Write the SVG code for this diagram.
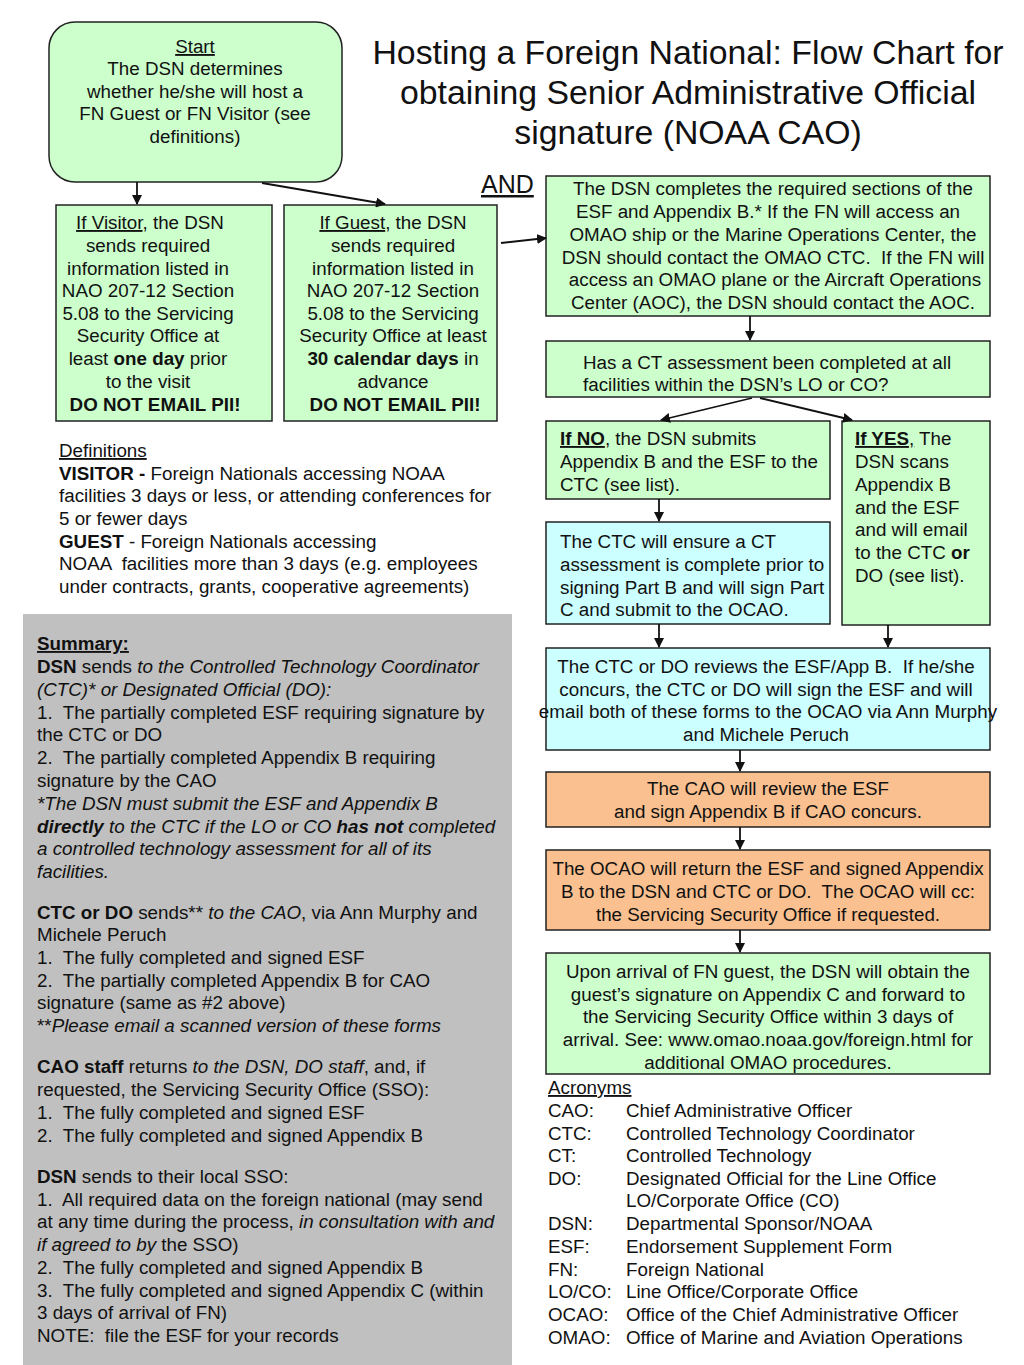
<svg xmlns="http://www.w3.org/2000/svg" width="1024" height="1365" viewBox="0 0 1024 1365" xml:space="preserve">
<style>
text{font-family:"Liberation Sans",Arial,sans-serif;font-size:18.8px;fill:#111;white-space:pre}
.c{text-anchor:middle}
.t{font-size:33.8px}
.b{font-weight:bold}
.i{font-style:italic}
.u{text-decoration:underline}
.box{stroke:#222;stroke-width:1.5}
.g{fill:#ccffcc}
.cy{fill:#ccffff}
.o{fill:#fac08f}
.conn line{stroke:#111;stroke-width:1.8}
</style>
<defs>
<marker id="ah" markerWidth="10" markerHeight="10" refX="9" refY="5" orient="auto" markerUnits="userSpaceOnUse">
<path d="M0,0 L10,5 L0,10 z" fill="#111"/>
</marker>
</defs>
<rect width="1024" height="1365" fill="#fff"/>

<g id="title">
<text class="c t" x="688" y="64">Hosting a Foreign National: Flow Chart for</text>
<text class="c t" x="688" y="104">obtaining Senior Administrative Official</text>
<text class="c t" x="688" y="144">signature (NOAA CAO)</text>
</g>

<g id="start">
<rect class="box g" x="49" y="22" width="293" height="160" rx="26"/>
<text class="c" x="195" y="53"><tspan class="u">Start</tspan></text>
<text class="c" x="195" y="75">The DSN determines</text>
<text class="c" x="195" y="98">whether he/she will host a</text>
<text class="c" x="195" y="120">FN Guest or FN Visitor (see</text>
<text class="c" x="195" y="143">definitions)</text>
</g>

<g id="visitor">
<rect class="box g" x="56" y="205" width="216" height="216"/>
<text class="c" x="150" y="229"><tspan class="u">If Visitor</tspan>, the DSN</text>
<text class="c" x="148" y="252">sends required</text>
<text class="c" x="148" y="275">information listed in</text>
<text class="c" x="148" y="297">NAO 207-12 Section</text>
<text class="c" x="148" y="320">5.08 to the Servicing</text>
<text class="c" x="148" y="342">Security Office at</text>
<text class="c" x="148" y="365">least <tspan class="b">one day</tspan> prior</text>
<text class="c" x="148" y="388">to the visit</text>
<text class="c b" x="155" y="411">DO NOT EMAIL PII!</text>
</g>

<g id="guest">
<rect class="box g" x="284" y="205" width="213" height="216"/>
<text class="c" x="393" y="229"><tspan class="u">If Guest</tspan>, the DSN</text>
<text class="c" x="393" y="252">sends required</text>
<text class="c" x="393" y="275">information listed in</text>
<text class="c" x="393" y="297">NAO 207-12 Section</text>
<text class="c" x="393" y="320">5.08 to the Servicing</text>
<text class="c" x="393" y="342">Security Office at least</text>
<text class="c" x="393" y="365"><tspan class="b">30 calendar days</tspan> in</text>
<text class="c" x="393" y="388">advance</text>
<text class="c b" x="395" y="411">DO NOT EMAIL PII!</text>
</g>

<g id="and-label">
<text x="481" y="193" style="font-size:25px" class="u">AND</text>
</g>

<g id="dsn-completes">
<rect class="box g" x="546" y="176" width="444" height="140"/>
<text class="c" x="773" y="195">The DSN completes the required sections of the</text>
<text class="c" x="768" y="218">ESF and Appendix B.* If the FN will access an</text>
<text class="c" x="773" y="241">OMAO ship or the Marine Operations Center, the</text>
<text class="c" x="773" y="264">DSN should contact the OMAO CTC.  If the FN will</text>
<text class="c" x="775" y="286">access an OMAO plane or the Aircraft Operations</text>
<text class="c" x="773" y="309">Center (AOC), the DSN should contact the AOC.</text>
</g>

<g id="ct-question">
<rect class="box g" x="546" y="341" width="444" height="56"/>
<text x="583" y="369">Has a CT assessment been completed at all</text>
<text x="583" y="391">facilities within the DSN’s LO or CO?</text>
</g>

<g id="if-no">
<rect class="box g" x="546" y="421" width="284" height="78"/>
<text x="560" y="445"><tspan class="b u">If NO</tspan>, the DSN submits</text>
<text x="560" y="468">Appendix B and the ESF to the</text>
<text x="560" y="491">CTC (see list).</text>
</g>

<g id="if-yes">
<rect class="box g" x="842" y="421" width="148" height="204"/>
<text x="855" y="445"><tspan class="b u">If YES</tspan><tspan class="u">,</tspan> The</text>
<text x="855" y="468">DSN scans</text>
<text x="855" y="491">Appendix B</text>
<text x="855" y="514">and the ESF</text>
<text x="855" y="536">and will email</text>
<text x="855" y="559">to the CTC <tspan class="b">or</tspan></text>
<text x="855" y="582">DO (see list).</text>
</g>

<g id="ctc-ensure">
<rect class="box cy" x="546" y="522" width="284" height="102"/>
<text x="560" y="548">The CTC will ensure a CT</text>
<text x="560" y="571">assessment is complete prior to</text>
<text x="560" y="594">signing Part B and will sign Part</text>
<text x="560" y="616">C and submit to the OCAO.</text>
</g>

<g id="ctc-reviews">
<rect class="box cy" x="546" y="648" width="444" height="102"/>
<text class="c" x="766" y="673">The CTC or DO reviews the ESF/App B.  If he/she</text>
<text class="c" x="766" y="696">concurs, the CTC or DO will sign the ESF and will</text>
<text class="c" x="768" y="718">email both of these forms to the OCAO via Ann Murphy</text>
<text class="c" x="766" y="741">and Michele Peruch</text>
</g>

<g id="cao-review">
<rect class="box o" x="546" y="772" width="444" height="55"/>
<text class="c" x="768" y="795">The CAO will review the ESF</text>
<text class="c" x="768" y="818">and sign Appendix B if CAO concurs.</text>
</g>

<g id="ocao-return">
<rect class="box o" x="546" y="850" width="444" height="80"/>
<text class="c" x="768" y="875">The OCAO will return the ESF and signed Appendix</text>
<text class="c" x="768" y="898">B to the DSN and CTC or DO.  The OCAO will cc:</text>
<text class="c" x="768" y="921">the Servicing Security Office if requested.</text>
</g>

<g id="arrival">
<rect class="box g" x="546" y="953" width="444" height="121"/>
<text class="c" x="768" y="978">Upon arrival of FN guest, the DSN will obtain the</text>
<text class="c" x="768" y="1001">guest’s signature on Appendix C and forward to</text>
<text class="c" x="768" y="1023">the Servicing Security Office within 3 days of</text>
<text class="c" x="768" y="1046">arrival. See: www.omao.noaa.gov/foreign.html for</text>
<text class="c" x="768" y="1069">additional OMAO procedures.</text>
</g>

<g id="definitions">
<text x="59" y="457"><tspan class="u">Definitions</tspan></text>
<text x="59" y="480"><tspan class="b">VISITOR - </tspan>Foreign Nationals accessing NOAA</text>
<text x="59" y="502">facilities 3 days or less, or attending conferences for</text>
<text x="59" y="525">5 or fewer days</text>
<text x="59" y="548"><tspan class="b">GUEST</tspan> - Foreign Nationals accessing</text>
<text x="59" y="570">NOAA  facilities more than 3 days (e.g. employees</text>
<text x="59" y="593">under contracts, grants, cooperative agreements)</text>
</g>

<g id="summary">
<rect x="23" y="614" width="489" height="751" fill="#c0c0c0"/>
<text x="37" y="650" class="b u">Summary:</text>
<text x="37" y="673"><tspan class="b">DSN</tspan> sends <tspan class="i">to the Controlled Technology Coordinator</tspan></text>
<text x="37" y="696" class="i">(CTC)* or Designated Official (DO):</text>
<text x="37" y="719">1.  The partially completed ESF requiring signature by</text>
<text x="37" y="741">the CTC or DO</text>
<text x="37" y="764">2.  The partially completed Appendix B requiring</text>
<text x="37" y="787">signature by the CAO</text>
<text x="37" y="810" class="i">*The DSN must submit the ESF and Appendix B</text>
<text x="37" y="833" class="i"><tspan class="b">directly</tspan> to the CTC if the LO or CO <tspan class="b">has not</tspan> completed</text>
<text x="37" y="855" class="i">a controlled technology assessment for all of its</text>
<text x="37" y="878" class="i">facilities.</text>
<text x="37" y="919"><tspan class="b">CTC or DO</tspan> sends** <tspan class="i">to the CAO</tspan>, via Ann Murphy and</text>
<text x="37" y="941">Michele Peruch</text>
<text x="37" y="964">1.  The fully completed and signed ESF</text>
<text x="37" y="987">2.  The partially completed Appendix B for CAO</text>
<text x="37" y="1009">signature (same as #2 above)</text>
<text x="37" y="1032">**<tspan class="i">Please email a scanned version of these forms</tspan></text>
<text x="37" y="1073"><tspan class="b">CAO staff</tspan> returns <tspan class="i">to the DSN, DO staff</tspan>, and, if</text>
<text x="37" y="1096">requested, the Servicing Security Office (SSO):</text>
<text x="37" y="1119">1.  The fully completed and signed ESF</text>
<text x="37" y="1142">2.  The fully completed and signed Appendix B</text>
<text x="37" y="1183"><tspan class="b">DSN</tspan> sends to their local SSO:</text>
<text x="37" y="1206">1.  All required data on the foreign national (may send</text>
<text x="37" y="1228">at any time during the process, <tspan class="i">in consultation with and</tspan></text>
<text x="37" y="1251"><tspan class="i">if agreed to by</tspan> the SSO)</text>
<text x="37" y="1274">2.  The fully completed and signed Appendix B</text>
<text x="37" y="1297">3.  The fully completed and signed Appendix C (within</text>
<text x="37" y="1319">3 days of arrival of FN)</text>
<text x="37" y="1342">NOTE:  file the ESF for your records</text>
</g>

<g id="acronyms">
<text x="548" y="1094" class="u">Acronyms</text>
<text x="548" y="1117">CAO:</text><text x="626" y="1117">Chief Administrative Officer</text>
<text x="548" y="1140">CTC:</text><text x="626" y="1140">Controlled Technology Coordinator</text>
<text x="548" y="1162">CT:</text><text x="626" y="1162">Controlled Technology</text>
<text x="548" y="1185">DO:</text><text x="626" y="1185">Designated Official for the Line Office</text>
<text x="626" y="1207">LO/Corporate Office (CO)</text>
<text x="548" y="1230">DSN:</text><text x="626" y="1230">Departmental Sponsor/NOAA</text>
<text x="548" y="1253">ESF:</text><text x="626" y="1253">Endorsement Supplement Form</text>
<text x="548" y="1276">FN:</text><text x="626" y="1276">Foreign National</text>
<text x="548" y="1298">LO/CO:</text><text x="626" y="1298">Line Office/Corporate Office</text>
<text x="548" y="1321">OCAO:</text><text x="626" y="1321">Office of the Chief Administrative Officer</text>
<text x="548" y="1344">OMAO:</text><text x="626" y="1344">Office of Marine and Aviation Operations</text>
</g>

<g id="connectors" class="conn">
<line x1="137" y1="182" x2="137" y2="204" marker-end="url(#ah)"/>
<line x1="262" y1="183" x2="385" y2="204" marker-end="url(#ah)"/>
<line x1="501" y1="243" x2="546" y2="238" marker-end="url(#ah)"/>
<line x1="750" y1="316" x2="750" y2="340" marker-end="url(#ah)"/>
<line x1="752" y1="398" x2="661" y2="420" marker-end="url(#ah)"/>
<line x1="760" y1="398" x2="852" y2="420" marker-end="url(#ah)"/>
<line x1="659" y1="499" x2="659" y2="521" marker-end="url(#ah)"/>
<line x1="659" y1="624" x2="659" y2="647" marker-end="url(#ah)"/>
<line x1="888" y1="625" x2="888" y2="647" marker-end="url(#ah)"/>
<line x1="740" y1="750" x2="740" y2="771" marker-end="url(#ah)"/>
<line x1="740" y1="827" x2="740" y2="849" marker-end="url(#ah)"/>
<line x1="740" y1="930" x2="740" y2="952" marker-end="url(#ah)"/>
</g>
</svg>
